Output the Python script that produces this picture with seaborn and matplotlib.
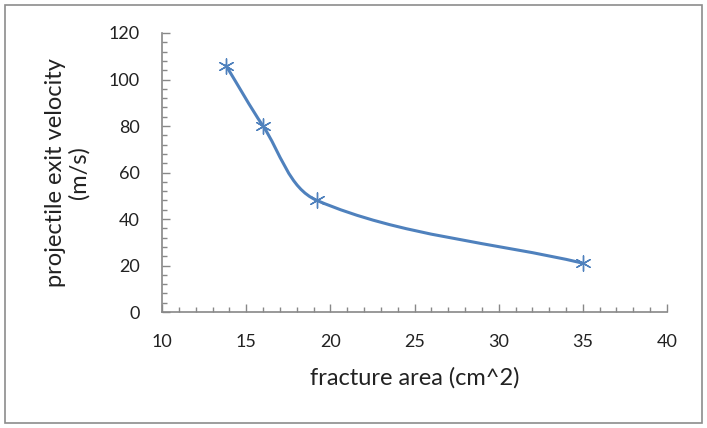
import numpy as np
import pandas as pd
import matplotlib.pyplot as plt
import seaborn as sns
from matplotlib.path import Path
from matplotlib.patches import PathPatch, Rectangle
from matplotlib.ticker import MultipleLocator

sns.set_theme(style="white")
plt.rcParams['font.family'] = ['Lato', 'DejaVu Sans']

# data
fracture_area = [13.8, 16.0, 19.2, 35.0]
exit_velocity = [106, 80, 48, 21]
df = pd.DataFrame({'area': fracture_area, 'velocity': exit_velocity})

blue = '#4f81bd'

fig = plt.figure(figsize=(7.07, 4.28), dpi=100)
ax = fig.add_axes([0.2292, 0.2710, 0.7142, 0.6519])
ax.set_xlim(10, 40)
ax.set_ylim(0, 120)

# outer chart frame like the Excel chart area
fig.patches.append(Rectangle((0.007, 0.012), 0.986, 0.976, transform=fig.transFigure,
                             fill=False, edgecolor='#8c8c8c', linewidth=1.2))

# Excel-style smoothed line: cubic Bezier segments, arms scaled by segment length
fig.canvas.draw()
pts = np.column_stack([fracture_area, exit_velocity]).astype(float)
disp = ax.transData.transform(pts)
n = len(disp)
tang = np.zeros_like(disp)
for i in range(n):
    a = disp[max(i - 1, 0)]
    b = disp[min(i + 1, n - 1)]
    d = np.linalg.norm(b - a)
    tang[i] = (b - a) / d if d > 0 else 0
verts = [tuple(disp[0])]
codes = [Path.MOVETO]
for i in range(n - 1):
    seg = np.linalg.norm(disp[i + 1] - disp[i])
    c1 = disp[i] + tang[i] * seg / 3.0
    c2 = disp[i + 1] - tang[i + 1] * seg / 3.0
    verts += [tuple(c1), tuple(c2), tuple(disp[i + 1])]
    codes += [Path.CURVE4] * 3
data_verts = ax.transData.inverted().transform(np.array(verts))
ax.add_patch(PathPatch(Path(data_verts, codes), facecolor='none', edgecolor=blue,
                       linewidth=2.2, capstyle='round', zorder=2))

sns.scatterplot(data=df, x='area', y='velocity', ax=ax, marker=(6, 2, 0), s=120,
                color=blue, edgecolor=blue, linewidth=1.0, zorder=3)

ax.xaxis.set_major_locator(MultipleLocator(5))
ax.xaxis.set_minor_locator(MultipleLocator(1))
ax.yaxis.set_major_locator(MultipleLocator(20))
ax.yaxis.set_minor_locator(MultipleLocator(4))
ax.tick_params(which='major', direction='in', length=6, width=1, color='#888888',
               labelsize=13, labelcolor='#222222')
ax.tick_params(axis='y', which='major', pad=16)
ax.tick_params(axis='x', which='major', pad=16)
ax.tick_params(which='minor', direction='in', length=3.5, width=1, color='#888888')
ax.tick_params(axis='x', which='both', bottom=True)
ax.tick_params(axis='y', which='both', left=True)

for side in ['top', 'right']:
    ax.spines[side].set_visible(False)
for side in ['left', 'bottom']:
    ax.spines[side].set_color('#888888')
    ax.spines[side].set_linewidth(1.2)

ax.set_xlabel('fracture area (cm^2)', fontsize=17, color='#222222', labelpad=12)
ax.set_ylabel('projectile exit velocity\n(m/s)', fontsize=17, color='#222222',
              labelpad=14, linespacing=1.1)

plt.savefig('out.png', dpi=100)
